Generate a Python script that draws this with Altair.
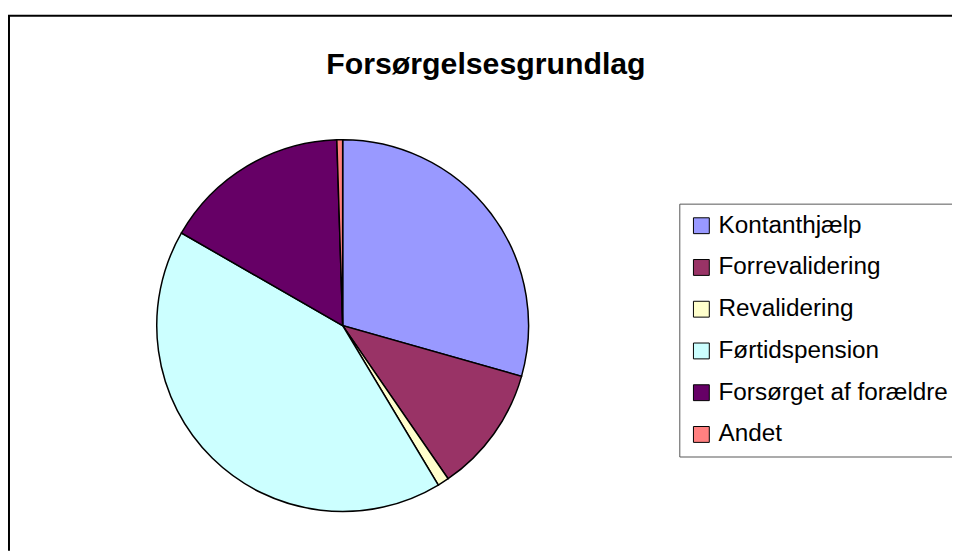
import altair as alt
import pandas as pd

categories = ["Kontanthjælp", "Forrevalidering", "Revalidering", "Førtidspension",
              "Forsørget af forældre", "Andet"]
values = [29.4, 11.0, 1.0, 41.9, 16.2, 0.5]
colors = ["#9999FF", "#993366", "#FFFFCC", "#CCFFFF", "#660066", "#FF8080"]
title_text = "Forsørgelsesgrundlag"

df = pd.DataFrame({"kategori": categories, "andel": values,
                   "orden": list(range(len(categories)))})
one = pd.DataFrame({"a": [0]})

FONT = "Liberation Sans, Arial, sans-serif"
W, H = 952, 540

pie = alt.Chart(df).mark_arc(outerRadius=187.5, stroke="black", strokeWidth=1.5).encode(
    theta=alt.Theta("andel:Q", stack=True),
    color=alt.Color(
        "kategori:N",
        scale=alt.Scale(domain=categories, range=colors),
        sort=categories,
        legend=alt.Legend(
            title=None, orient="none", legendX=677, legendY=190,
            labelFontSize=24.5, labelFont=FONT, labelColor="black",
            symbolType="square", symbolSize=256, symbolStrokeColor="black",
            symbolStrokeWidth=1, symbolOpacity=1, labelOffset=5, padding=10,
            strokeColor="#555555", fillColor="white", rowPadding=17.1, labelLimit=400,
        ),
    ),
    order=alt.Order("orden:Q"),
    x=alt.value(337.5),
    y=alt.value(313),
)

title = alt.Chart(pd.DataFrame({"t": [title_text]})).mark_text(
    font=FONT, fontSize=30.5, fontWeight="bold", color="black",
    align="center", baseline="alphabetic",
).encode(text="t:N", x=alt.value(482), y=alt.value(59))

frame_left = alt.Chart(one).mark_rule(color="black", strokeWidth=2).encode(
    x=alt.value(1), y=alt.value(0), y2=alt.value(H)
)
frame_top = alt.Chart(one).mark_rule(color="black", strokeWidth=2).encode(
    x=alt.value(0), x2=alt.value(W), y=alt.value(0.5)
)

chart = alt.layer(frame_left, frame_top, pie, title).properties(
    width=W, height=H,
    padding={"left": 0, "top": 5, "right": 0, "bottom": 0},
    autosize="none",
).configure_view(strokeWidth=0)

chart.save("out.html", embed_options={"renderer": "svg", "actions": False})
